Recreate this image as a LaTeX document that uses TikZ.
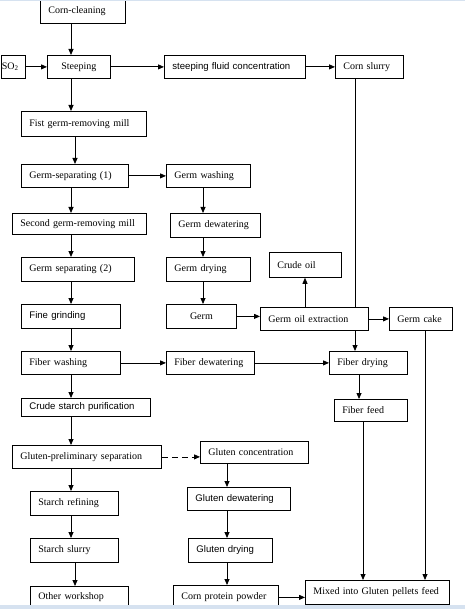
\documentclass[tikz,border=0pt]{standalone}
\usepackage{fontspec}
\setmainfont{Liberation Serif}
\setsansfont{Liberation Sans}
\usetikzlibrary{arrows.meta}
\definecolor{barblue}{RGB}{214,226,240}

\begin{document}
\begin{tikzpicture}[x=1pt,y=-1pt]

% Define styles
\tikzstyle{stage}=[draw=black, line width=0.8pt, anchor=north west, inner xsep=8pt, inner ysep=0pt, minimum height=23pt, align=left, font=\fontsize{10}{12}\selectfont]
\tikzstyle{sans}=[font=\sffamily\fontsize{9.6}{12}\selectfont]
\tikzstyle{flow}=[line width=0.8pt, -{Triangle[length=6pt,width=5pt]}]
\tikzstyle{plain}=[line width=0.8pt]

\useasboundingbox (0,0) rectangle (465,609);

% Main column
\node[stage, text width=69pt, minimum height=24pt] (clean) at (40,-1) {Corn-cleaning};
\node[stage, text width=22pt, inner xsep=1pt] (so2) at (0.5,55) {SO\textsubscript{2}};
\node[stage, text width=47pt, align=center] (steep) at (47,55) {Steeping};
\node[stage, text width=109pt, minimum height=25pt] (mill1) at (21,111) {Fist germ-removing mill};
\node[stage, text width=91pt] (sep1) at (21,164) {Germ-separating (1)};
\node[stage, text width=118pt, minimum height=21pt] (mill2) at (12,213) {Second germ-removing mill};
\node[stage, text width=97pt, minimum height=24pt] (sep2) at (21,257) {Germ separating (2)};
\node[stage, sans, text width=83pt, minimum height=24pt] (fine) at (21,304) {Fine grinding};
\node[stage, text width=83pt] (fibwash) at (21,351) {Fiber washing};
\node[stage, sans, text width=113pt, minimum height=18pt] (crude) at (21,398) {Crude starch purification};
\node[stage, text width=133pt] (glpre) at (12,445) {Gluten-preliminary separation};
\node[stage, text width=72pt, minimum height=24pt] (refine) at (30,491) {Starch refining};
\node[stage, text width=72pt, minimum height=24pt] (sslurry) at (30,538) {Starch slurry};
\node[stage, text width=82pt, minimum height=22pt] (other) at (30,586) {Other workshop};

% Germ and gluten column
\node[stage, sans, text width=125pt] (fluid) at (164,55) {steeping fluid concentration};
\node[stage, text width=68pt] (gwash) at (166,164) {Germ washing};
\node[stage, text width=74pt, minimum height=24pt] (gdew) at (170,213) {Germ dewatering};
\node[stage, text width=68pt, minimum height=24pt] (gdry) at (166,257) {Germ drying};
\node[stage, text width=54pt, minimum height=24pt, align=center] (germ) at (166,304) {Germ};
\node[stage, text width=72pt] (fibdew) at (166,351) {Fiber dewatering};
\node[stage, text width=92pt, minimum height=22pt] (glconc) at (200,441) {Gluten concentration};
\node[stage, sans, text width=87pt] (gldew) at (187,487) {Gluten dewatering};
\node[stage, sans, text width=68pt, minimum height=24pt] (gldry) at (188,538) {Gluten drying};
\node[stage, text width=89pt, minimum height=24pt] (protein) at (173,585) {Corn protein powder};

% Right side
\node[stage, text width=52pt] (slurry) at (335,55) {Corn slurry};
\node[stage, text width=56pt, minimum height=25pt] (crudeoil) at (269,252) {Crude oil};
\node[stage, text width=92pt] (oilx) at (260,307) {Germ oil extraction};
\node[stage, text width=47pt] (cake) at (389,307) {Germ cake};
\node[stage, text width=62pt] (fibdry) at (329,351) {Fiber drying};
\node[stage, text width=57pt, minimum height=22pt] (fibfeed) at (334,399) {Fiber feed};
\node[stage, text width=128pt, minimum height=24pt] (mixed) at (305,580) {Mixed into Gluten pellets feed};

% Columns of the vertical connectors
\coordinate (colA) at (71,0);
\coordinate (colB) at (75,0);
\coordinate (colC) at (203,0);
\coordinate (colD) at (227,0);
\coordinate (colE) at (305,0);
\coordinate (colF) at (355,0);
\coordinate (colG) at (359,0);
\coordinate (colH) at (363,0);
\coordinate (colI) at (425,0);

% Downward flow
\foreach \a/\b/\c in {clean/steep/colA, steep/mill1/colA, mill1/sep1/colB, sep1/mill2/colA,
  mill2/sep2/colA, sep2/fine/colA, fine/fibwash/colA, fibwash/crude/colA, crude/glpre/colA,
  glpre/refine/colA, refine/sslurry/colA, sslurry/other/colB,
  gwash/gdew/colC, gdew/gdry/colC, gdry/germ/colC,
  glconc/gldew/colD, gldew/gldry/colD, gldry/protein/colD,
  oilx/fibdry/colF, fibdry/fibfeed/colG, fibfeed/mixed/colH, cake/mixed/colI} {
  \draw[flow] (\a.south -| \c) -- (\b.north -| \c);
}
\draw[plain] (slurry.south -| colF) -- (oilx.north -| colF);
\draw[flow] (oilx.north -| colE) -- (crudeoil.south -| colE);

% Sideways flow
\foreach \a/\b in {so2/steep, steep/fluid, fluid/slurry, sep1/gwash, fibwash/fibdew, fibdew/fibdry, oilx/cake} {
  \draw[flow] (\a.east) -- (\b.west);
}
\draw[flow] (germ.east) -- (germ.east -| oilx.west);
\draw[flow, dash pattern=on 6pt off 4pt] (glpre.east) -- (glpre.east -| glconc.west);
\draw[flow] (protein.east) -- (protein.east -| mixed.west);

% Window edges
\fill[barblue] (0,0) rectangle (465,1.5);
\fill[barblue] (0,605) rectangle (465,609);

\end{tikzpicture}
\end{document}
